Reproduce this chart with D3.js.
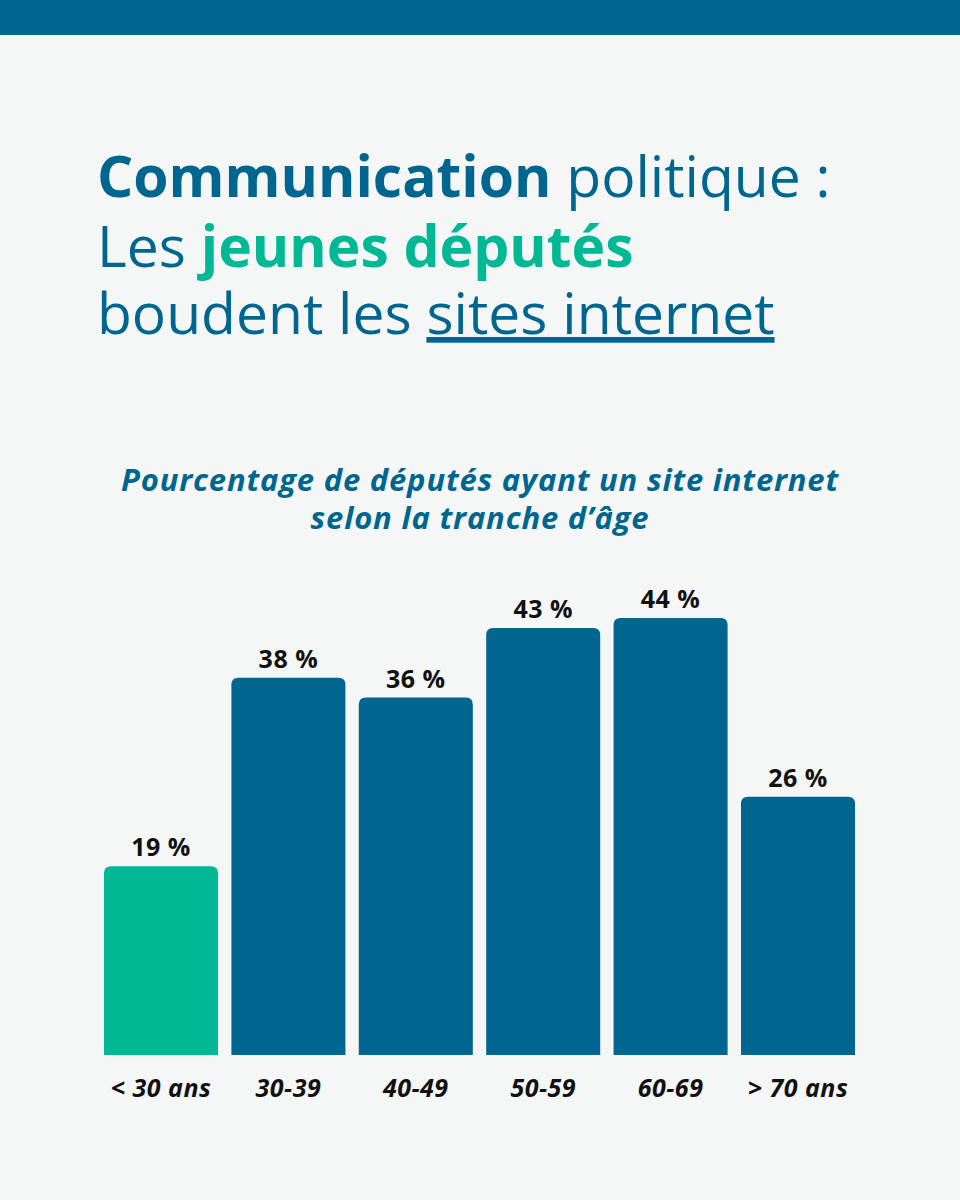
<!DOCTYPE html>
<html><head><meta charset="utf-8">
<script src="https://cdn.jsdelivr.net/npm/d3@7"></script>
<style>body{margin:0;background:#f5f7f7;}svg{display:block;font-family:"Open Sans",sans-serif;}</style>
</head><body>
<script>
var categories = ["< 30 ans", "30-39", "40-49", "50-59", "60-69", "> 70 ans"];
var values = [19, 38, 36, 43, 44, 26];
var highlight = ["< 30 ans"];

var blue = "#00668f", green = "#00b894";
var svg = d3.select("body").append("svg").attr("width", 960).attr("height", 1200);
svg.append("rect").attr("width", 960).attr("height", 1200).attr("fill", "#f5f7f7");
svg.append("rect").attr("width", 960).attr("height", 35).attr("fill", blue);

// title
var t = svg.append("text").attr("x", 97).attr("font-size", 57).attr("fill", blue);
var l1 = t.append("tspan").attr("x", 97).attr("y", 197);
l1.append("tspan").attr("font-weight", 700).text("Communication");
l1.append("tspan").text(" politique :");
var l2 = t.append("tspan").attr("x", 97).attr("y", 267);
l2.append("tspan").text("Les ");
l2.append("tspan").attr("font-weight", 700).attr("fill", green).text("jeunes députés");
var l3 = t.append("tspan").attr("x", 97).attr("y", 334);
l3.append("tspan").text("boudent les ");
l3.append("tspan").attr("text-decoration", "underline").text("sites internet");

// subtitle
svg.selectAll(".sub").data(["Pourcentage de députés ayant un site internet", "selon la tranche d’âge"])
  .enter().append("text").attr("x", 480).attr("y", function(d, i) { return 491 + i * 38; })
  .attr("text-anchor", "middle").attr("font-size", 31).attr("font-weight", 700)
  .attr("font-style", "italic").attr("letter-spacing", 0.8).attr("fill", blue).text(function(d) { return d; });

var x = d3.scaleBand().domain(categories).range([104, 855]).paddingInner(0.105);
var y = d3.scaleLinear().domain([0, 100]).range([1055, 62]);
var r = 7;

var g = svg.append("g");
g.selectAll("path").data(values).enter().append("path")
  .attr("fill", function(d, i) { return highlight.indexOf(categories[i]) >= 0 ? green : blue; })
  .attr("d", function(d, i) {
    var x0 = x(categories[i]), w = x.bandwidth(), y0 = y(d), b = y(0);
    return "M" + x0 + "," + b + "V" + (y0 + r) + "Q" + x0 + "," + y0 + " " + (x0 + r) + "," + y0 +
      "H" + (x0 + w - r) + "Q" + (x0 + w) + "," + y0 + " " + (x0 + w) + "," + (y0 + r) + "V" + b + "Z";
  });
g.selectAll(".v").data(values).enter().append("text")
  .attr("x", function(d, i) { return x(categories[i]) + x.bandwidth() / 2; })
  .attr("y", function(d) { return y(d) - 10; })
  .attr("text-anchor", "middle").attr("font-size", 25).attr("font-weight", 700).attr("fill", "#111")
  .attr("letter-spacing", 0.5).text(function(d) { return d + " %"; });
g.selectAll(".c").data(categories).enter().append("text")
  .attr("x", function(d) { return x(d) + x.bandwidth() / 2; })
  .attr("y", 1097).attr("text-anchor", "middle").attr("font-size", 25).attr("font-weight", 700)
  .attr("font-style", "italic").attr("letter-spacing", 0.5).attr("fill", "#111").text(function(d) { return d; });
</script>
</body></html>
